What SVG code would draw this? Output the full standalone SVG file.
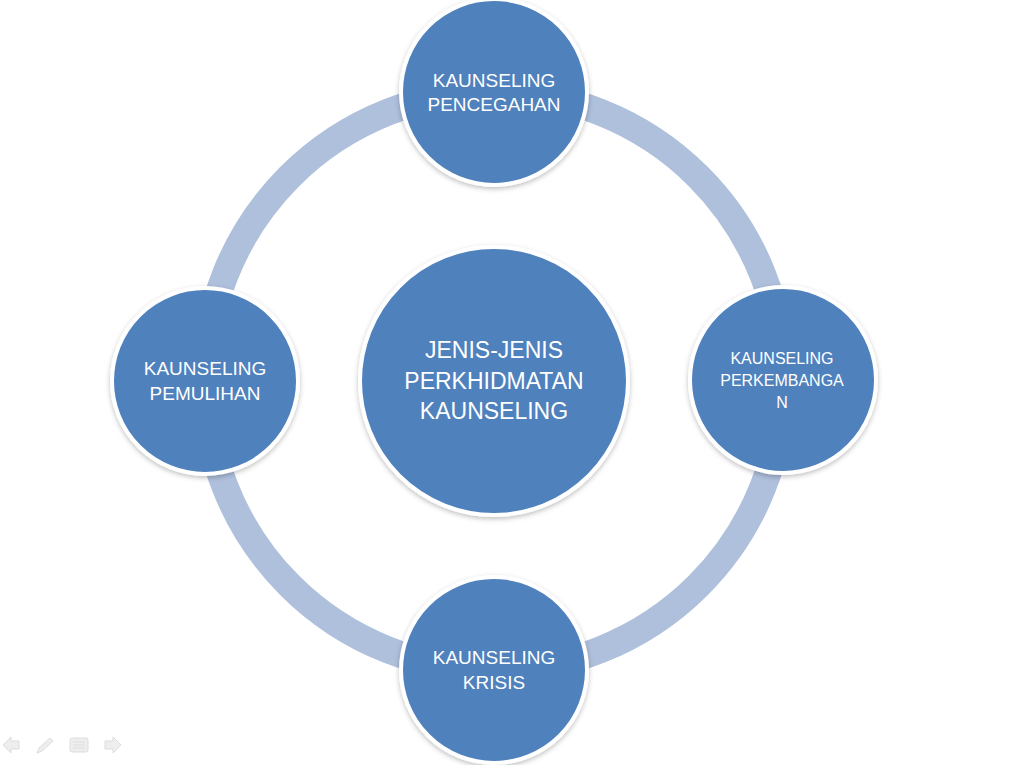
<svg xmlns="http://www.w3.org/2000/svg" width="1017" height="765" viewBox="0 0 1017 765">
  <defs>
    <filter id="sh" x="-20%" y="-20%" width="140%" height="140%">
      <feDropShadow dx="0" dy="2" stdDeviation="2.5" flood-color="#000" flood-opacity="0.25"/>
    </filter>
    <style>
      .node { fill: #4f81bd; stroke: #ffffff; stroke-width: 4; filter: url(#sh); }
      .lbl { font-family: "Liberation Sans", Arial, sans-serif; fill: #ffffff; text-anchor: middle; }
      .nav { fill: #eeeeee; stroke: #dddddd; stroke-width: 1; }
    </style>
  </defs>
  <rect width="1017" height="765" fill="#ffffff"/>

  <g id="connectors">
    <circle cx="494" cy="381" r="289" fill="none" stroke="#afc0dc" stroke-width="27"/>
  </g>

  <g id="node-center">
    <circle class="node" cx="494" cy="381" r="134"/>
    <text class="lbl" font-size="23"><tspan x="494" y="358">JENIS-JENIS</tspan><tspan x="494" y="389">PERKHIDMATAN</tspan><tspan x="494" y="419">KAUNSELING</tspan></text>
  </g>

  <g id="node-pencegahan">
    <circle class="node" cx="494" cy="92" r="93"/>
    <text class="lbl" font-size="19"><tspan x="494" y="87">KAUNSELING</tspan><tspan x="494" y="111">PENCEGAHAN</tspan></text>
  </g>

  <g id="node-perkembangan">
    <circle class="node" cx="783" cy="380" r="93"/>
    <text class="lbl" font-size="16"><tspan x="782" y="364">KAUNSELING</tspan><tspan x="782" y="386">PERKEMBANGA</tspan><tspan x="782" y="408">N</tspan></text>
  </g>

  <g id="node-krisis">
    <circle class="node" cx="494" cy="670" r="93"/>
    <text class="lbl" font-size="19"><tspan x="494" y="664">KAUNSELING</tspan><tspan x="494" y="689">KRISIS</tspan></text>
  </g>

  <g id="node-pemulihan">
    <circle class="node" cx="205" cy="381" r="93"/>
    <text class="lbl" font-size="19"><tspan x="205" y="375">KAUNSELING</tspan><tspan x="205" y="400">PEMULIHAN</tspan></text>
  </g>

  <g id="nav-icons">
    <path class="nav" d="M3 745 L11 737 L11 741 L19 741 L19 749 L11 749 L11 753 Z"/>
    <path class="nav" d="M37 753 L39 748 L50 738 L53 741 L42 751 Z"/>
    <rect class="nav" x="70" y="738" width="18" height="14" rx="2"/>
    <path d="M73 742 H85 M73 745 H85 M73 748 H85" stroke="#dddddd" stroke-width="1"/>
    <path class="nav" d="M121 745 L113 737 L113 741 L105 741 L105 749 L113 749 L113 753 Z"/>
  </g>
</svg>
